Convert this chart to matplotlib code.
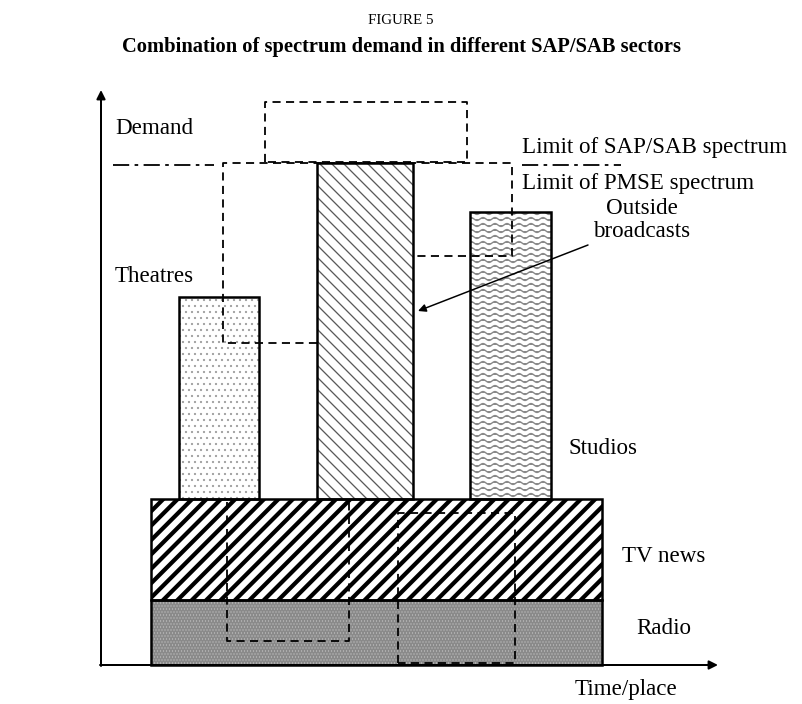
import numpy as np
import matplotlib
matplotlib.use("Agg")
import matplotlib.pyplot as plt
import matplotlib.hatch as mhatch
from matplotlib.path import Path
from matplotlib.patches import Rectangle

# Diagram values, in axis units from the origin (time/place -> x, demand -> y)
layer_names = ["Radio", "TV news"]
layer_start = [50, 50]
layer_end = [501, 501]
layer_bottom = [0, 65]
layer_top = [65, 166]

sector_names = ["Theatres", "Outside broadcasts", "Studios"]
sector_start = [78, 216, 369]
sector_end = [158, 312, 450]
sector_top = [368, 502, 453]

sapsab_limit = 500
sapsab_segments = [(12, 113), (421, 520)]

pmse_x = [216, 122, 122, 411, 411, 312]
pmse_y = [322, 322, 502, 502, 409, 409]

top_box_x = [164, 366]
top_box_y = [503, 563]
low_left_x = [126, 126, 248, 248]
low_left_y = [163, 24, 24, 163]
low_right_x = [297, 414]
low_right_y = [2, 152]

axis_x_end = 617
axis_y_end = 575


class WaveHatch(mhatch.HatchPatternBase):
    """Horizontal wavy lines, hatch character '~'."""
    periods = 6
    steps = 96
    amplitude = 0.02

    def __init__(self, hatch, density):
        self.num_lines = int(hatch.count('~') * density)
        self.num_vertices = self.num_lines * (self.steps + 1)

    def set_vertices_and_codes(self, vertices, codes):
        n = self.steps + 1
        t = np.linspace(0, 1, n)
        for i in range(self.num_lines):
            y0 = (i + 0.5) / self.num_lines
            vertices[i * n:(i + 1) * n, 0] = t
            vertices[i * n:(i + 1) * n, 1] = y0 + self.amplitude * np.sin(2 * np.pi * self.periods * t)
            codes[i * n] = Path.MOVETO
            codes[i * n + 1:(i + 1) * n] = Path.LINETO


class WideDiagonalHatch(mhatch.HatchPatternBase):
    """North-east diagonals, five per hatch unit, hatch character '%'."""

    def __init__(self, hatch, density):
        self.num_lines = int(hatch.count('%') * 10)
        self.num_vertices = (self.num_lines + 1) * 2 if self.num_lines else 0

    def set_vertices_and_codes(self, vertices, codes):
        steps = np.linspace(-0.5, 0.5, self.num_lines + 1)
        vertices[0::2, 0] = 0.0 + steps
        vertices[0::2, 1] = 0.0 - steps
        vertices[1::2, 0] = 1.0 + steps
        vertices[1::2, 1] = 1.0 - steps
        codes[0::2] = Path.MOVETO
        codes[1::2] = Path.LINETO


mhatch._hatch_types.extend([WaveHatch, WideDiagonalHatch])
mhatch._validate_hatch_pattern = lambda hatch: None

plt.rcParams['font.family'] = ['Liberation Serif', 'DejaVu Serif']

DPI = 72
fig = plt.figure(figsize=(802 / DPI, 704 / DPI), dpi=DPI)
ax = fig.add_axes([0, 0, 1, 1])
ax.set_xlim(-101, 701)
ax.set_ylim(-39, 665)
ax.axis("off")


def hatched_rect(x0, x1, y0, y1, hatch, hcolor, hlw, face="white", z=2):
    with plt.rc_context({'hatch.linewidth': hlw}):
        p = Rectangle((x0, y0), x1 - x0, y1 - y0, facecolor=face, edgecolor=hcolor,
                      hatch=hatch, linewidth=0, zorder=z)
    if hasattr(p, "set_hatch_linewidth"):
        p.set_hatch_linewidth(hlw)
    ax.add_patch(p)
    ax.add_patch(Rectangle((x0, y0), x1 - x0, y1 - y0, facecolor="none",
                           edgecolor="black", linewidth=2.5, zorder=z + 0.5))


# base layers
layer_style = {
    "Radio": ("....", "#c4c4c4", 0.6, "#8a8a8a"),
    "TV news": ("%", "black", 4.2, "white"),
}
for name, x0, x1, y0, y1 in zip(layer_names, layer_start, layer_end, layer_bottom, layer_top):
    h, hc, hlw, face = layer_style[name]
    hatched_rect(x0, x1, y0, y1, h, hc, hlw, face)

# sector bars
sector_style = {
    "Theatres": ("..", "#a0a0a0", 1.0),
    "Outside broadcasts": ("\\\\", "#5a5a5a", 1.3),
    "Studios": ("~~", "#8a8a8a", 1.4),
}
for name, x0, x1, top in zip(sector_names, sector_start, sector_end, sector_top):
    h, hc, hlw = sector_style[name]
    hatched_rect(x0, x1, layer_top[-1], top, h, hc, hlw)

# dashed outlines
dash = dict(color="black", linewidth=1.8, linestyle=(0, (4.5, 3)), zorder=5)
ax.plot(pmse_x, pmse_y, **dash)
ax.plot([top_box_x[0], top_box_x[0], top_box_x[1], top_box_x[1], top_box_x[0]],
        [top_box_y[0], top_box_y[1], top_box_y[1], top_box_y[0], top_box_y[0]], **dash)
ax.plot(low_left_x, low_left_y, **dash)
ax.plot([low_right_x[0], low_right_x[0], low_right_x[1], low_right_x[1], low_right_x[0]],
        [low_right_y[0], low_right_y[1], low_right_y[1], low_right_y[0], low_right_y[0]], **dash)

# SAP/SAB limit
for xa, xb in sapsab_segments:
    ax.plot([xa, xb], [sapsab_limit, sapsab_limit], color="black", linewidth=1.8,
            linestyle=(0, (9, 3, 2, 3)), zorder=5)

# axes arrows
arr = dict(arrowstyle="-|>", color="black", lw=2, mutation_scale=18, shrinkA=0, shrinkB=0)
ax.annotate("", xy=(0, axis_y_end), xytext=(0, -1), arrowprops=arr, zorder=6)
ax.annotate("", xy=(axis_x_end, 0), xytext=(-1, 0), arrowprops=arr, zorder=6)

# pointer to outside broadcasts
ax.annotate("", xy=(317, 354), xytext=(487, 420),
            arrowprops=dict(arrowstyle="-|>", color="black", lw=1.5, mutation_scale=16,
                            shrinkA=0, shrinkB=0), zorder=6)

# texts
fs = 23
fig.text(0.5, 1 - 20 / 704, "FIGURE 5", ha="center", va="center", fontsize=15)
fig.text(0.5, 1 - 47 / 704, "Combination of spectrum demand in different SAP/SAB sectors",
         ha="center", va="center", fontsize=20.5, fontweight="bold")
ax.text(14, 537, "Demand", ha="left", va="center", fontsize=fs)
ax.text(421, 518, "Limit of SAP/SAB spectrum", ha="left", va="center", fontsize=fs)
ax.text(421, 482, "Limit of PMSE spectrum", ha="left", va="center", fontsize=fs)
ax.text(541, 445, "Outside\nbroadcasts", ha="center", va="center", fontsize=fs, linespacing=1.12)
ax.text(14, 389, "Theatres", ha="left", va="center", fontsize=fs)
ax.text(468, 217, "Studios", ha="left", va="center", fontsize=fs)
ax.text(521, 109, "TV news", ha="left", va="center", fontsize=fs)
ax.text(535, 37, "Radio", ha="left", va="center", fontsize=fs)
ax.text(474, -25, "Time/place", ha="left", va="center", fontsize=fs)

fig.savefig("out.png", dpi=DPI)
